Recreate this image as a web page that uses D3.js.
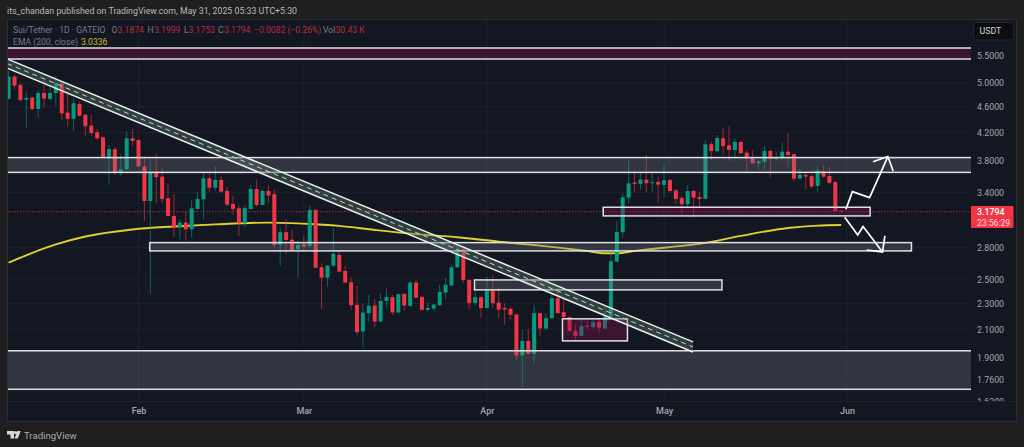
<!DOCTYPE html>
<html><head><meta charset="utf-8">
<script src="https://cdn.jsdelivr.net/npm/d3@7/dist/d3.min.js"></script>
<style>html,body{margin:0;padding:0;background:#1f1f1f;overflow:hidden}svg{display:block}text{font-family:Roboto,sans-serif}</style>
</head><body><svg id="c" width="1024" height="447"></svg>
<script>
// ---- data (Jan 10 2025 = bar 0, one bar a day) ----
const opens=[4.733,5.115,4.968,4.716,4.750,4.564,4.829,4.728,4.829,4.997,4.506,4.411,4.646,4.470,4.304,4.205,4.132,3.851,3.961,3.640,3.691,4.117,4.092,3.726,3.301,3.653,3.597,3.333,3.132,3.006,3.059,2.988,3.210,3.321,3.576,3.460,3.555,3.420,3.267,3.218,3.053,3.210,3.444,3.255,3.420,3.381,2.828,2.957,2.881,2.785,2.835,2.818,3.198,2.614,2.520,2.629,2.730,2.580,2.480,2.290,2.085,2.224,2.284,2.159,2.322,2.353,2.229,2.380,2.282,2.477,2.355,2.250,2.260,2.288,2.391,2.451,2.614,2.785,2.500,2.306,2.353,2.264,2.406,2.308,2.266,2.258,2.213,1.916,2.017,1.927,2.224,2.107,2.185,2.344,2.232,2.193,2.087,2.053,2.127,2.117,2.157,2.107,2.198,2.666,2.957,3.340,3.522,3.506,3.559,3.518,3.530,3.493,3.555,3.428,3.337,3.263,3.420,3.348,3.325,4.031,3.933,4.117,4.017,3.951,4.064,3.914,3.846,3.770,3.792,3.937,3.828,3.846,3.928,3.892,3.572,3.618,3.602,3.481,3.665,3.606,3.527,3.1874];
const highs=[5.223,5.146,4.994,4.851,4.767,4.880,5.055,4.938,5.128,5.025,4.829,4.745,4.683,4.485,4.470,4.254,4.141,4.021,3.989,3.892,4.214,4.254,4.102,3.859,3.824,3.896,3.704,3.506,3.384,3.096,3.179,3.305,3.412,3.660,3.640,3.735,3.597,3.473,3.360,3.255,3.255,3.493,3.564,3.440,3.493,3.444,3.010,3.096,2.981,2.868,2.922,3.255,3.210,2.651,2.636,2.999,2.759,2.626,2.524,2.448,2.304,2.372,2.338,2.386,2.423,2.372,2.380,2.386,2.491,2.500,2.364,2.308,2.298,2.457,2.520,2.636,2.828,2.801,2.506,2.437,2.358,2.529,2.542,2.437,2.304,2.276,2.219,2.097,2.102,2.290,2.229,2.224,2.391,2.414,2.344,2.198,2.134,2.172,2.159,2.172,2.177,2.282,2.746,3.077,3.393,3.805,3.653,3.653,3.882,3.640,3.597,3.761,3.568,3.440,3.360,3.493,3.432,3.412,4.092,4.060,4.165,4.265,4.300,4.117,4.082,3.951,3.951,3.814,4.007,3.961,3.928,4.060,4.190,3.906,3.691,3.653,3.627,3.726,3.748,3.726,3.543,3.1999];
const lows=[4.711,4.898,4.683,4.269,4.537,4.423,4.580,4.711,4.602,4.391,4.289,4.229,4.443,4.155,4.155,4.092,3.846,3.493,3.618,3.606,3.682,4.007,3.722,3.077,2.380,3.275,3.278,3.121,2.909,2.885,2.871,2.906,3.204,3.096,3.412,3.420,3.393,3.244,3.143,2.919,3.006,3.204,3.236,3.252,3.287,2.795,2.629,2.740,2.768,2.520,2.778,2.795,2.605,2.256,2.443,2.620,2.571,2.472,2.250,2.060,1.970,2.159,2.117,2.157,2.264,2.211,2.224,2.245,2.276,2.344,2.245,2.237,2.237,2.282,2.336,2.448,2.605,2.472,2.256,2.282,2.185,2.260,2.264,2.185,2.134,2.177,1.882,1.717,1.920,1.865,2.048,2.097,2.180,2.222,2.185,2.085,2.024,2.048,2.102,2.112,2.078,2.102,2.172,2.663,2.899,3.275,3.396,3.432,3.400,3.412,3.275,3.345,3.412,3.263,3.154,3.218,3.118,3.236,3.321,3.814,3.928,3.882,3.805,3.828,3.896,3.648,3.757,3.673,3.682,3.584,3.805,3.814,3.717,3.534,3.568,3.440,3.452,3.404,3.584,3.506,3.174,3.1753];
const closes=[5.115,4.955,4.711,4.745,4.564,4.829,4.733,4.829,4.997,4.496,4.411,4.657,4.458,4.295,4.195,4.117,3.851,3.961,3.640,3.691,4.117,4.078,3.726,3.301,3.653,3.589,3.325,3.132,3.006,3.059,2.988,3.218,3.325,3.576,3.460,3.555,3.412,3.259,3.210,3.053,3.218,3.444,3.255,3.420,3.364,2.828,2.957,2.878,2.778,2.828,2.811,3.198,2.610,2.520,2.629,2.740,2.574,2.477,2.288,2.080,2.229,2.282,2.159,2.322,2.353,2.229,2.378,2.284,2.477,2.349,2.250,2.266,2.292,2.397,2.457,2.614,2.778,2.500,2.304,2.353,2.264,2.406,2.304,2.252,2.252,2.211,1.916,2.017,1.927,2.224,2.107,2.185,2.344,2.224,2.193,2.090,2.053,2.125,2.120,2.154,2.112,2.198,2.670,2.960,3.345,3.514,3.506,3.559,3.514,3.527,3.497,3.551,3.420,3.325,3.263,3.420,3.340,3.325,4.031,3.937,4.121,4.007,3.951,4.064,3.906,3.837,3.770,3.797,3.937,3.828,3.851,3.928,3.882,3.572,3.622,3.597,3.473,3.673,3.597,3.518,3.187,3.1794];

const emaBars=[0,8,13,21,28,35,44,52,56,62,69,76,83,90,98,101,103,106,113,117,124,132,137,141];
const emaValues=[2.657,2.833,2.913,2.986,3.017,3.040,3.059,3.042,3.024,2.981,2.937,2.906,2.861,2.821,2.768,2.746,2.746,2.768,2.813,2.838,2.919,3.002,3.027,3.0336];

const priceTicks=[5.5,5,4.6,4.2,3.8,3.4,2.8,2.5,2.3,2.1,1.9,1.76,1.63];
const monthBars=[22,50,81,111,142];
const monthLabels=["Feb","Mar","Apr","May","Jun"];

// zones: price top/bottom, bar start/end (null = whole chart width), tint
const zoneTop=[5.657,3.846,3.229,2.851,2.500,2.180,1.948];
const zoneBottom=[5.442,3.651,3.132,2.769,2.414,2.017,1.701];
const zoneStart=[null,null,100.7,23.9,78.9,93.8,null];
const zoneEnd=[null,null,145.9,152.9,120.8,104.8,null];
const zoneTint=["p","g","p","g","g","p","g"];

// falling channel: bars & prices at both ends
const channelBars=[-0.2,115.9];
const channelUpper=[5.442,2.010];
const channelLower=[5.267,1.940];

// projected paths
const upBars=[141.8,142.9,145.8,148.9];
const upPrices=[3.206,3.412,3.340,3.860];
const upHeadBars=[146.4,148.9,149.8];
const upHeadPrices=[3.791,3.860,3.669];
const downBars=[141.6,143.8,144.7,148.0];
const downPrices=[3.118,2.929,3.017,2.759];
const downHeadBars=[145.3,148.0,148.4];
const downHeadPrices=[2.778,2.759,2.919];

const lastPrice=3.1794;
const countdown="23:56:29";

// ---- layout ----
const L=8,R=971,T=20,B=402,FR=1016.5,FB=421.5;
const UP="#089981",DN="#f23645";
const x=d3.scaleLinear().domain([0,141]).range([8.6,841.2]);
const y=d3.scaleLog().domain([5.5,1.63]).range([56,401.4]);
const svg=d3.select("#c");
svg.append("rect").attr("width",1024).attr("height",447).attr("fill","#1f1f1f");
svg.append("rect").attr("x",7.5).attr("y",19.5).attr("width",FR-7.5).attr("height",FB-19.5).attr("fill","#131722").attr("stroke","#2a2d35");
const defs=svg.append("defs");
defs.append("clipPath").attr("id","plot").append("rect").attr("x",L).attr("y",T).attr("width",R-L).attr("height",B-T);
defs.append("clipPath").attr("id","axis").append("rect").attr("x",R).attr("y",T).attr("width",FR-R).attr("height",B-T);

// grid
const plot=svg.append("g").attr("clip-path","url(#plot)");
plot.selectAll(".gh").data(priceTicks).join("line").attr("x1",L).attr("x2",R).attr("y1",d=>y(d)).attr("y2",d=>y(d)).attr("stroke","#1d212c");
plot.selectAll(".gv").data(monthBars).join("line").attr("y1",T).attr("y2",B).attr("x1",d=>x(d)).attr("x2",d=>x(d)).attr("stroke","#1d212c");

// last price line
plot.append("line").attr("x1",L).attr("x2",R).attr("y1",y(lastPrice)).attr("y2",y(lastPrice)).attr("stroke","#a8283a").attr("stroke-dasharray","1.5 1.5");

// EMA
const bars=d3.range(opens.length);
plot.append("path").attr("fill","none").attr("stroke","#e0d02f").attr("stroke-width",1.9)
 .attr("d",d3.line().x(i=>x(emaBars[i])).y(i=>y(emaValues[i])).curve(d3.curveMonotoneX)(d3.range(emaBars.length)));

// candles
const col=i=>closes[i]>=opens[i]?UP:DN;
plot.selectAll(".w").data(bars).join("line").attr("x1",i=>x(i)).attr("x2",i=>x(i)).attr("y1",i=>y(highs[i])).attr("y2",i=>y(lows[i])).attr("stroke",col).attr("stroke-width",1).attr("stroke-opacity",.6);
plot.selectAll(".b").data(bars).join("rect").attr("x",i=>x(i)-2).attr("width",4).attr("y",i=>Math.min(y(opens[i]),y(closes[i])))
 .attr("height",i=>Math.max(1,Math.abs(y(opens[i])-y(closes[i])))).attr("fill",col);

// zones
d3.range(zoneTop.length).forEach(i=>{
  const x0=zoneStart[i]===null?L-4:x(zoneStart[i]), x1=zoneEnd[i]===null?R+4:x(zoneEnd[i]);
  plot.append("rect").attr("x",x0).attr("width",x1-x0).attr("y",y(zoneTop[i])).attr("height",y(zoneBottom[i])-y(zoneTop[i]))
   .attr("fill",zoneTint[i]==="p"?"rgba(136,14,79,.35)":"rgba(120,123,134,.3)").attr("stroke","#dfe1e6").attr("stroke-width",1.5);
});

// channel
const pts=[[0,channelUpper],[1,channelUpper],[1,channelLower],[0,channelLower]];
plot.append("path").attr("fill","rgba(86,120,100,.42)").attr("stroke","none")
 .attr("d",d3.line().x(d=>x(channelBars[d[0]])).y(d=>y(d[1][d[0]]))(pts)+"Z");
[channelUpper,channelLower].forEach(s=>{
  plot.append("line").attr("x1",x(channelBars[0])).attr("x2",x(channelBars[1])).attr("y1",y(s[0])).attr("y2",y(s[1])).attr("stroke","#eceff2").attr("stroke-width",1.5);
});
const mid=[0,1].map(k=>Math.sqrt(channelUpper[k]*channelLower[k]));
plot.append("line").attr("x1",x(channelBars[0])).attr("x2",x(channelBars[1])).attr("y1",y(mid[0])).attr("y2",y(mid[1])).attr("stroke","#c9d2cc").attr("stroke-width",1).attr("stroke-dasharray","5 4");

// arrows
const arrow=(bs,ps)=>plot.append("path").attr("fill","none").attr("stroke","#ffffff").attr("stroke-width",1.7).attr("stroke-linejoin","miter")
  .attr("d",d3.line().x(i=>x(bs[i])).y(i=>y(ps[i]))(d3.range(bs.length)));
arrow(upBars,upPrices);arrow(upHeadBars,upHeadPrices);
arrow(downBars,downPrices);arrow(downHeadBars,downHeadPrices);

// price axis
const axisG=svg.append("g").attr("clip-path","url(#axis)");
const ax=axisG.append("g").attr("transform",`translate(${R},0)`).call(d3.axisRight(y).tickValues(priceTicks).tickFormat(d3.format(".4f")).tickSize(0).tickPadding(6));
ax.select(".domain").remove();
ax.selectAll("text").attr("fill","#a3a6ad").attr("font-size",8.8).style("font-family","Roboto,sans-serif");

// time axis
svg.append("line").attr("x1",L).attr("x2",FR).attr("y1",B-.5).attr("y2",B-.5).attr("stroke","#1d212c");
const tx=svg.append("g").attr("transform",`translate(0,${B})`).call(d3.axisBottom(x).tickValues(monthBars).tickFormat((d,i)=>monthLabels[i]).tickSize(0).tickPadding(6));
tx.select(".domain").remove();
tx.selectAll("text").attr("fill","#a3a6ad").attr("font-size",9).attr("font-weight",500).style("font-family","Roboto,sans-serif");

// USDT box
svg.append("rect").attr("x",973.5).attr("y",22.5).attr("width",40).attr("height",17.5).attr("rx",3).attr("fill","#0c0d10").attr("stroke","#23262f");
svg.append("text").attr("x",979.5).attr("y",34).attr("fill","#d1d4dc").attr("font-size",8.8).text("USDT");

// last price label
svg.append("rect").attr("x",971).attr("y",206).attr("width",42.5).attr("height",22).attr("rx",1).attr("fill",DN);
svg.append("text").attr("x",977).attr("y",215.2).attr("fill","#fff").attr("font-size",8.8).attr("font-weight",500).text(lastPrice.toFixed(4));
svg.append("text").attr("x",977).attr("y",225.5).attr("fill","#ffd9dd").attr("font-size",8.6).text(countdown);

// header
const t=(X,Y,s,c,fs=8.8)=>svg.append("text").attr("x",X).attr("y",Y).attr("fill",c).attr("font-size",fs).text(s);
t(7,14,"its_chandan published on TradingView.com, May 31, 2025 05:33 UTC+5:30","#b7b9bf");
const G="#787b86",Rd="#b92a3c";
t(13,33,"Sui/Tether · 1D · GATEIO",G,8.6);
t(111.5,33,"O",G,8.6);t(117.5,33,"3.1874",Rd,8.6);
t(147.5,33,"H",G,8.6);t(154,33,"3.1999",Rd,8.6);
t(184,33,"L",G,8.6);t(188.5,33,"3.1753",Rd,8.6);
t(218,33,"C",G,8.6);t(224,33,"3.1794",Rd,8.6);
t(254,33,"−0.0082 (−0.26%)",Rd,8.6);
t(323,33,"Vol",G,8.6);t(335.5,33,"30.43 K",Rd,8.6);
t(13,45.2,"EMA (200, close)",G,8.6);
t(81,45.2,"3.0336","#c9bd2b",8.6);

// footer
const logo=svg.append("g").attr("fill","#d8d9dc");
logo.append("path").attr("d","M7 431h7v7.5h-3.5v-4H7z");
logo.append("circle").attr("cx",15.6).attr("cy",432.6).attr("r",1.6);
logo.append("path").attr("d","M17.5 431h3.2l-3 7.5h-3.2z");
t(24,438.5,"TradingView","#a9abb0",9.6);
</script></body></html>
